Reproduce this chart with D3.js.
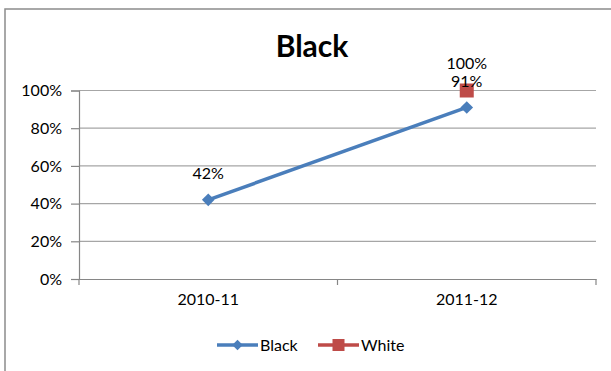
<!DOCTYPE html>
<html><head><meta charset="utf-8">
<script src="https://cdn.jsdelivr.net/npm/d3@7"></script>
<style>body{margin:0;background:#fff;} svg{display:block;font-family:Lato,"Open Sans",sans-serif;}</style>
</head><body>
<svg id="c" width="611" height="371"></svg>
<script>
const categories = ["2010-11", "2011-12"];
const blackValues = [0.42, 0.91];
const whiteValues = [null, 1.00];
const yTicks = [0, 0.2, 0.4, 0.6, 0.8, 1.0];
const seriesNames = ["Black", "White"];
const colors = ["#4A7EBB", "#BE4B48"];

const FS = 16;
const svg = d3.select("#c");
svg.append("rect").attr("x",5).attr("y",9).attr("width",640).attr("height",400)
  .attr("fill","#fff").attr("stroke","#8c8c8c").attr("stroke-width",1.5);

const L=79, R=596, T=90.5, B=279;
const x = d3.scaleBand().domain(categories).range([L,R]);
const y = d3.scaleLinear().domain([0,1]).range([B,T]);

// gridlines
svg.append("g").selectAll("line").data(yTicks.slice(1)).join("line")
  .attr("x1",L).attr("x2",R).attr("y1",d=>y(d)).attr("y2",d=>y(d))
  .attr("stroke","#a6a6a6").attr("stroke-width",1.2);

// y axis
const ya = svg.append("g").attr("transform",`translate(${L},0)`)
  .call(d3.axisLeft(y).tickValues(yTicks).tickFormat(d3.format(".0%")).tickSize(8).tickPadding(9));
ya.select(".domain").attr("stroke","#868686").attr("stroke-width",1.2);
ya.selectAll(".tick line").attr("stroke","#868686").attr("stroke-width",1.2);
ya.selectAll("text").attr("font-size",FS).attr("fill","#000").attr("font-family","Lato,'Open Sans',sans-serif");

// x axis
const xa = svg.append("g").attr("transform",`translate(0,${B})`)
  .call(d3.axisBottom(x).tickSize(0).tickPadding(15));
xa.select(".domain").attr("stroke","#868686").attr("stroke-width",1.2);
xa.selectAll("text").attr("font-size",FS).attr("fill","#000").attr("font-family","Lato,'Open Sans',sans-serif");
// category boundary ticks
const bounds = [L, L + x.bandwidth(), R];
svg.append("g").selectAll("line").data(bounds).join("line")
  .attr("x1",d=>d).attr("x2",d=>d).attr("y1",B).attr("y2",B+6)
  .attr("stroke","#868686").attr("stroke-width",1.2);

const cx = c => x(c) + x.bandwidth()/2;

const blackData = categories.map((c,i)=>({c, v:blackValues[i]})).filter(d=>d.v!=null);
const whiteData = categories.map((c,i)=>({c, v:whiteValues[i]})).filter(d=>d.v!=null);
const line = d3.line().x(d=>cx(d.c)).y(d=>y(d.v));
svg.append("path").datum(blackData).attr("d",line).attr("fill","none")
  .attr("stroke",colors[0]).attr("stroke-width",3.5);

const diamond = d3.symbol().type(d3.symbolSquare).size(80);
svg.append("g").selectAll("path").data(blackData).join("path")
  .attr("d",diamond)
  .attr("transform",d=>`translate(${cx(d.c)},${y(d.v)}) rotate(45)`)
  .attr("fill",colors[0]);

svg.append("g").selectAll("rect").data(whiteData).join("rect")
  .attr("x",d=>cx(d.c)-7).attr("y",d=>y(d.v)-7).attr("width",14).attr("height",14)
  .attr("fill",colors[1]);

// data labels
const fmt = d3.format(".0%");
svg.append("g").selectAll("text").data(blackData).join("text")
  .attr("x",d=>cx(d.c)).attr("y",d=>y(d.v)-20.5).attr("text-anchor","middle")
  .attr("font-size",FS).text(d=>fmt(d.v));
svg.append("g").selectAll("text").data(whiteData).join("text")
  .attr("x",d=>cx(d.c)).attr("y",d=>y(d.v)-22).attr("text-anchor","middle")
  .attr("font-size",FS).text(d=>fmt(d.v));

// title
svg.append("text").attr("x",312).attr("y",57).attr("text-anchor","middle")
  .attr("font-size",30).attr("font-weight","bold").text("Black");

// legend
const leg = [{name:seriesNames[0], color:colors[0], x0:217, shape:"diamond"},
             {name:seriesNames[1], color:colors[1], x0:318, shape:"square"}];
const lg = svg.append("g").selectAll("g").data(leg).join("g")
  .attr("transform",d=>`translate(${d.x0},345)`);
lg.append("line").attr("x1",0).attr("x2",41).attr("y1",0).attr("y2",0)
  .attr("stroke",d=>d.color).attr("stroke-width",3.5);
lg.filter(d=>d.shape==="diamond").append("path").attr("d",d3.symbol().type(d3.symbolSquare).size(55))
  .attr("transform","translate(20.5,0) rotate(45)").attr("fill",d=>d.color);
lg.filter(d=>d.shape==="square").append("rect").attr("x",14.5).attr("y",-6).attr("width",12).attr("height",12)
  .attr("fill",d=>d.color);
lg.append("text").attr("x",43).attr("y",5.5).attr("font-size",FS).text(d=>d.name);
</script>
</body></html>
